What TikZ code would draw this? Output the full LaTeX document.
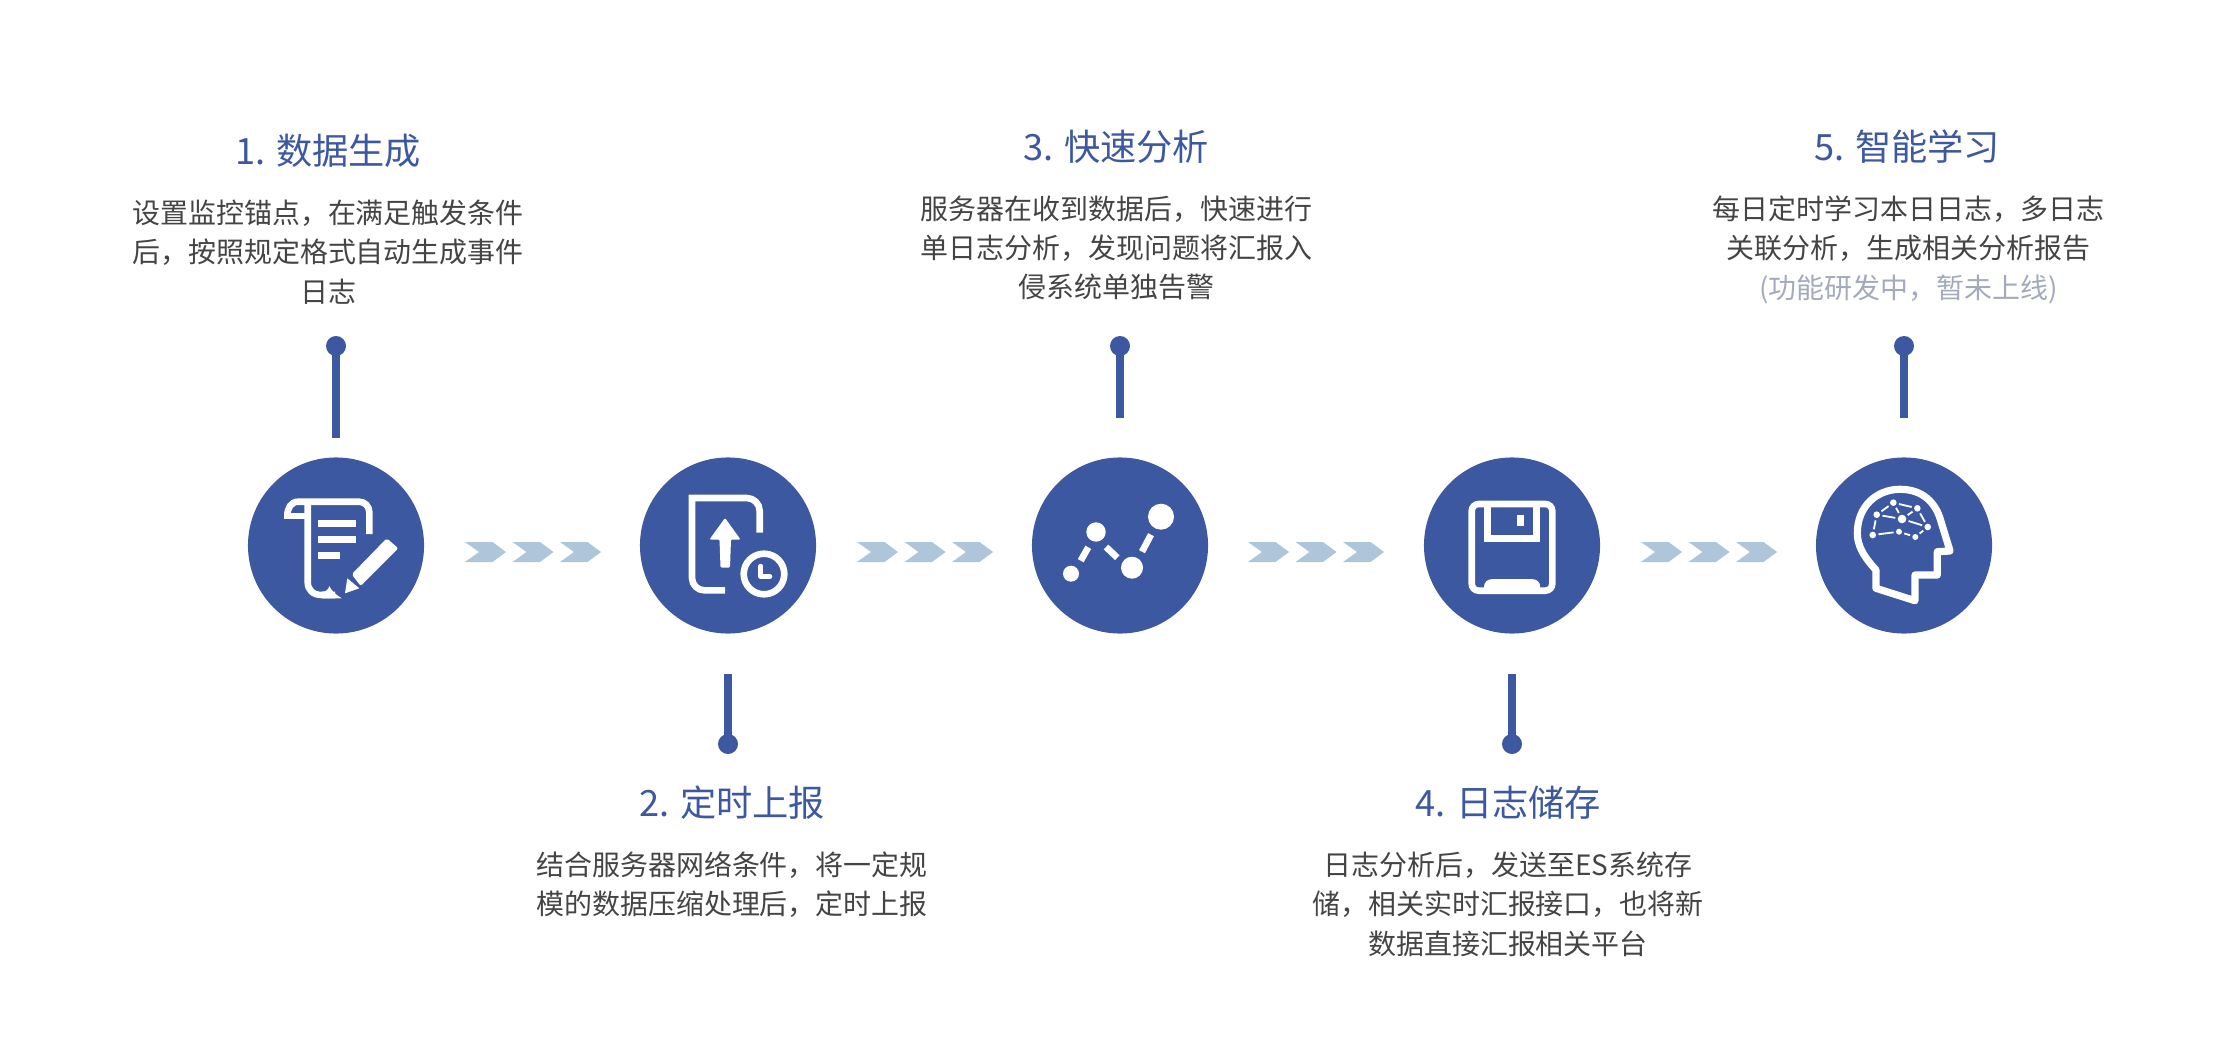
\documentclass[tikz,border=0pt]{standalone}
\usepackage{fontspec}
\setmainfont{Noto Sans CJK SC}
\usepackage{xcolor}
\usepackage{tikz}
\usetikzlibrary{positioning}
\definecolor{stageblue}{HTML}{3C58A0}
\definecolor{chevblue}{HTML}{AEC5DA}
\definecolor{bodygray}{HTML}{444444}
\definecolor{softgray}{HTML}{A3AABC}
\tikzset{
	stage/.style={circle, fill=stageblue, minimum size=1.76cm, inner sep=0pt},
	pin/.style={circle, fill=stageblue, minimum size=0.2cm, inner sep=0pt},
	stem/.style={draw=stageblue, line width=0.085cm},
	heading/.style={text=stageblue, inner sep=0pt, font=\fontsize{10.3pt}{12pt}\selectfont},
	body/.style={text=bodygray, align=center, inner sep=0pt, anchor=north,
		font=\fontsize{7.95pt}{11.2pt}\selectfont},
	chev/.style={fill=chevblue},
	icon/.style={draw=white, line width=0.066cm},
	iconfill/.style={fill=white},
	star/.style={circle, fill=white, inner sep=0pt, outer sep=0.025cm},
	link/.style={draw=white, line width=0.018cm}
}
\begin{document}
\begin{tikzpicture}[x=0.01cm, y=-0.01cm]
	\useasboundingbox (0,0) rectangle (2234,1064);
	\node [stage] (S1) at (336,545.5) {};
	\node [stage] (S2) at (728,545.5) {};
	\node [stage] (S3) at (1120,545.5) {};
	\node [stage] (S4) at (1512,545.5) {};
	\node [stage] (S5) at (1904,545.5) {};
	%% Stems
	\node [pin] (P1) at (336,346) {};
	\node [pin] (P2) at (728,744) {};
	\node [pin] (P3) at (1120,346) {};
	\node [pin] (P4) at (1512,744) {};
	\node [pin] (P5) at (1904,346) {};
	\coordinate (E1) at (336,438);
	\coordinate (E2) at (728,674);
	\coordinate (E3) at (1120,418);
	\coordinate (E4) at (1512,674);
	\coordinate (E5) at (1904,418);
	\path [stem] (P1.center) -- (E1);
	\path [stem] (P2.center) -- (E2);
	\path [stem] (P3.center) -- (E3);
	\path [stem] (P4.center) -- (E4);
	\path [stem] (P5.center) -- (E5);
	%% Headings
	\node [heading] (H1) at (328,151) {1. 数据生成};
	\node [heading] (H2) at (732,803) {2. 定时上报};
	\node [heading] (H3) at (1116,147) {3. 快速分析};
	\node [heading] (H4) at (1508,803) {4. 日志储存};
	\node [heading] (H5) at (1907,147) {5. 智能学习};
	%% Texts
	\node [body] (T1) at (328,199) {设置监控锚点，在满足触发条件\\后，按照规定格式自动生成事件\\日志};
	\node [body] (T2) at (732,851) {结合服务器网络条件，将一定规\\模的数据压缩处理后，定时上报};
	\node [body] (T3) at (1116.5,195) {服务器在收到数据后，快速进行\\单日志分析，发现问题将汇报入\\侵系统单独告警};
	\node [body] (T4) at (1508,851) {日志分析后，发送至ES系统存\\储，相关实时汇报接口，也将新\\数据直接汇报相关平台};
	\node [body] (T5) at (1908.5,195) {每日定时学习本日日志，多日志\\关联分析，生成相关分析报告\\\textcolor{softgray}{(功能研发中，暂未上线)}};
	%% Chevrons
	\foreach \g in {465,857,1248,1641}
		\foreach \k in {0,1,2}
			\fill [chev, shift={({\g+47.5*\k},552)}] (0,-10) -- (27.5,-10) -- (41,0) -- (27.5,10) -- (0,10) -- (14,0) -- cycle;
	%% Icon 1
	\draw [icon] (369.3,534) -- (369.3,512) arc (0:-90:10.3) -- (298.3,501.7) .. controls (291,501.7) and (287.3,508) .. (287.3,516);
	\draw [icon, line width=0.056cm] (284,516) -- (307.7,516);
	\draw [icon] (307.7,501.7) -- (307.7,582) .. controls (307.7,590) and (313,595) .. (321.7,595) -- (335,595);
	\fill [iconfill] (329.3,586) .. controls (331,590) and (336,595) .. (341.7,598.3) -- (322,598.3) -- (322,591.7) .. controls (326,591.7) and (328.5,589.5) .. (329.3,586) -- cycle;
	\fill [iconfill] (318,520) rectangle (356,527);
	\fill [iconfill] (318,536) rectangle (356,543);
	\fill [iconfill] (318,552) rectangle (340,559);
	\fill [iconfill, rounded corners=0.02cm] (351.7,574.3) -- (386.7,538.3) -- (398.3,548.3) -- (360.7,586) -- cycle;
	\fill [iconfill, rounded corners=0.005cm] (347.3,578.3) -- (359.3,588.3) -- (345,593.3) -- cycle;
	%% Icon 2
	\draw [icon] (759.7,532.7) -- (759.7,511) arc (0:-90:13) -- (692,498) -- (692,578) arc (180:90:12.3) -- (725,590.3);
	\fill [iconfill, rounded corners=0.012cm] (725,518) -- (740.5,539.5) -- (731,539.5) -- (730,567.5) -- (720.5,567.5) -- (719.5,539.5) -- (709.5,539.5) -- cycle;
	\draw [icon] (764,574) circle (20.3);
	\draw [icon, line width=0.045cm, line cap=round, line join=round] (760.7,566) -- (760.7,576.7) -- (770,576.7);
	%% Icon 3
	\fill [iconfill] (1071,573.7) circle (8);
	\fill [iconfill] (1096,532) circle (9.7);
	\fill [iconfill] (1132,567.7) circle (11);
	\fill [iconfill] (1161,516.7) circle (13);
	\draw [icon] (1080.7,560.7) -- (1088.3,547.3);
	\draw [icon] (1106,547) -- (1117.3,557.7);
	\draw [icon] (1142,551.7) -- (1151,534.7);
	%% Icon 4
	\draw [icon, rounded corners=0.07cm] (1471.7,504) rectangle (1552.3,590.7);
	\draw [icon] (1487.3,504) -- (1487.3,538.3) -- (1536.7,538.3) -- (1536.7,504);
	\fill [iconfill] (1517.3,515) rectangle (1524,526);
	\fill [iconfill] (1484,590) -- (1484,586.7) arc (180:270:7.5) -- (1532.7,579.2) arc (270:360:7.5) -- (1540.2,590) -- cycle;
	%% Icon 5
	\draw [icon, line width=0.072cm, line join=round] (1915,600.7) -- (1876,588.3) -- (1876,570) .. controls (1863,556) and (1857.3,545) .. (1857.3,533.3)
		.. controls (1857.3,506) and (1877,489.3) .. (1900,489.3)
		.. controls (1923,489.3) and (1935,503) .. (1940,518.3)
		-- (1950,551) -- (1937.3,551.7) -- (1937.3,575) -- (1915,575) -- cycle;
	\node [star, minimum size=0.066cm] (N1) at (1876.7,514.7) {};
	\node [star, minimum size=0.066cm] (N2) at (1893.3,502.7) {};
	\node [star, minimum size=0.066cm] (N3) at (1917.3,508.3) {};
	\node [star, minimum size=0.086cm] (N4) at (1902,519) {};
	\node [star, minimum size=0.066cm] (N5) at (1927.7,527) {};
	\node [star, minimum size=0.066cm] (N6) at (1872.7,535) {};
	\node [star, minimum size=0.06cm] (N7) at (1899,531.7) {};
	\node [star, minimum size=0.06cm] (N8) at (1915.3,537) {};
	\path [link] (N1) -- (N2);
	\path [link] (N2) -- (N3);
	\path [link] (N2) -- (N4);
	\path [link] (N3) -- (N4);
	\path [link] (N1) -- (N4);
	\path [link] (N4) -- (N5);
	\path [link] (N3) -- (N5);
	\path [link] (N1) -- (N6);
	\path [link] (N6) -- (N7);
	\path [link] (N7) -- (N8);
	\path [link] (N8) -- (N5);
\end{tikzpicture}
\end{document}
